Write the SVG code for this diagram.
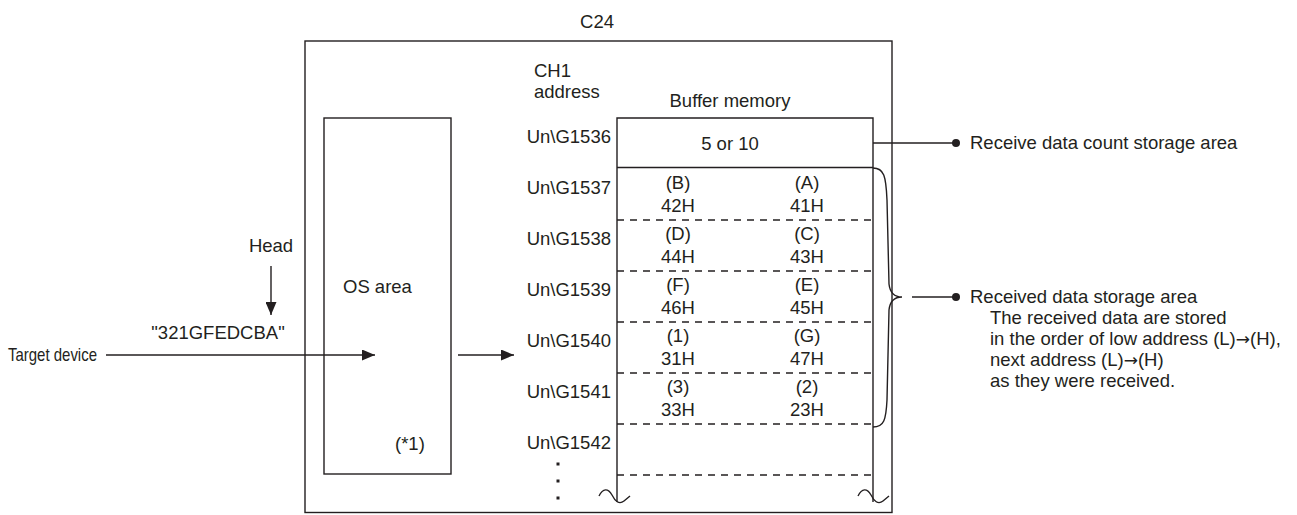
<svg xmlns="http://www.w3.org/2000/svg" width="1297" height="515" viewBox="0 0 1297 515">
<style>
text{font-family:"Liberation Sans",Arial,sans-serif;font-size:18.5px;fill:#231f20}
.m{text-anchor:middle}
.e{text-anchor:end}
.ar{font-family:"DejaVu Sans",sans-serif;font-size:17px}
.ln{fill:none;stroke:#231f20;stroke-width:1.4}
.d{fill:none;stroke:#231f20;stroke-width:1.4;stroke-dasharray:7 6}
</style>
<defs>
<marker id="ah" viewBox="0 0 13 11" refX="13" refY="5.5" markerWidth="13" markerHeight="11" markerUnits="userSpaceOnUse" orient="auto">
<path d="M0,0 L13,5.5 L0,11 Z" fill="#231f20"/>
</marker>
</defs>
<rect width="1297" height="515" fill="#fff"/>
<g id="c24">
<rect class="ln" x="305" y="41" width="587" height="471.5"/>
<text class="m" x="597" y="28">C24</text>
</g>
<g id="os-area">
<rect class="ln" x="324" y="118" width="127" height="356"/>
<text x="343" y="293">OS area</text>
<text x="395" y="450">(*1)</text>
</g>
<g id="addresses">
<text x="534" y="77">CH1</text>
<text x="534" y="98">address</text>
<text class="e" x="611" y="143">Un\G1536</text>
<text class="e" x="611" y="194">Un\G1537</text>
<text class="e" x="611" y="245">Un\G1538</text>
<text class="e" x="611" y="296">Un\G1539</text>
<text class="e" x="611" y="347">Un\G1540</text>
<text class="e" x="611" y="398">Un\G1541</text>
<text class="e" x="611" y="449">Un\G1542</text>
<rect x="556.5" y="462.5" width="3" height="3" fill="#231f20"/>
<rect x="556.5" y="479.5" width="3" height="3" fill="#231f20"/>
<rect x="556.5" y="496.5" width="3" height="3" fill="#231f20"/>
</g>
<g id="buffer-memory">
<text class="m" x="730" y="107">Buffer memory</text>
<path class="ln" d="M617,502 L617,118 L873,118 L873,502"/>
<line class="ln" x1="617" y1="167.5" x2="873" y2="167.5"/>
<line class="d" x1="617" y1="220" x2="873" y2="220"/>
<line class="d" x1="617" y1="271" x2="873" y2="271"/>
<line class="d" x1="617" y1="322" x2="873" y2="322"/>
<line class="d" x1="617" y1="373" x2="873" y2="373"/>
<line class="d" x1="617" y1="424" x2="873" y2="424"/>
<line class="d" x1="617" y1="475" x2="873" y2="475"/>
<path class="ln" d="M599,496 C603,488 608,488 612,495 C615,501 619,505 624,501 L630,496"/>
<path class="ln" d="M858,496 C862,488 867,488 871,495 C874,501 878,505 883,501 L889,496"/>
<text class="m" x="730" y="150">5 or 10</text>
<text class="m" x="678" y="189">(B)</text><text class="m" x="807" y="189">(A)</text>
<text class="m" x="678" y="212">42H</text><text class="m" x="807" y="212">41H</text>
<text class="m" x="678" y="240">(D)</text><text class="m" x="807" y="240">(C)</text>
<text class="m" x="678" y="263">44H</text><text class="m" x="807" y="263">43H</text>
<text class="m" x="678" y="291">(F)</text><text class="m" x="807" y="291">(E)</text>
<text class="m" x="678" y="314">46H</text><text class="m" x="807" y="314">45H</text>
<text class="m" x="678" y="342">(1)</text><text class="m" x="807" y="342">(G)</text>
<text class="m" x="678" y="365">31H</text><text class="m" x="807" y="365">47H</text>
<text class="m" x="678" y="393">(3)</text><text class="m" x="807" y="393">(2)</text>
<text class="m" x="678" y="416">33H</text><text class="m" x="807" y="416">23H</text>
</g>
<g id="target-device">
<text x="8" y="361" textLength="89" lengthAdjust="spacingAndGlyphs" style="font-size:18.5px">Target device</text>
<text class="m" x="271" y="252">Head</text>
<text class="m" x="218" y="339">"321GFEDCBA"</text>
</g>
<g id="labels">
<text x="970" y="149">Receive data count storage area</text>
<text x="970" y="303">Received data storage area</text>
<text x="990" y="324">The received data are stored</text>
<text x="990" y="345">in the order of low address (L)<tspan class="ar">→</tspan>(H),</text>
<text x="990" y="366">next address (L)<tspan class="ar">→</tspan>(H)</text>
<text x="990" y="387">as they were received.</text>
</g>
<g id="connectors">
<line class="ln" x1="271" y1="266" x2="271" y2="315" marker-end="url(#ah)"/>
<line class="ln" x1="106" y1="355" x2="375" y2="355" marker-end="url(#ah)"/>
<line class="ln" x1="458" y1="355" x2="514" y2="355" marker-end="url(#ah)"/>
<line class="ln" x1="873" y1="143" x2="956" y2="143"/>
<circle cx="956" cy="143" r="4" fill="#231f20"/>
<path class="ln" d="M873,168 C884,168 886,176 887,200 L889,284 C890,293 895,297 902,297 C895,297 890,301 889,310 L887,400 C886,420 884,427 873,427"/>
<line class="ln" x1="912" y1="297" x2="956" y2="297"/>
<circle cx="956" cy="297" r="4" fill="#231f20"/>
</g>
</svg>
